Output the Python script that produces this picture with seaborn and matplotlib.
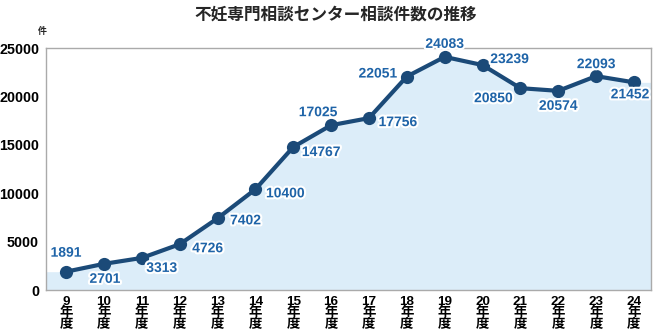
import matplotlib
matplotlib.use("Agg")
import matplotlib.pyplot as plt
import matplotlib.patheffects as pe
import seaborn as sns
import pandas as pd
import numpy as np

years = ["9", "10", "11", "12", "13", "14", "15", "16", "17", "18", "19", "20", "21", "22", "23", "24"]
counts = [1891, 2701, 3313, 4726, 7402, 10400, 14767, 17025, 17756, 22051, 24083, 23239, 20850, 20574, 22093, 21452]
yticks = [0, 5000, 10000, 15000, 20000, 25000]
title = "不妊専門相談センター相談件数の推移"
unit = "件"

sns.set_theme(style="white")
plt.rcParams['font.family'] = ['Liberation Sans', 'Noto Sans CJK JP', 'DejaVu Sans']

df = pd.DataFrame({"x": np.arange(len(years)), "count": counts})

fig = plt.figure(figsize=(6.72, 3.36), dpi=100)
ax = fig.add_axes([46/672, 1 - 290/336, (651-46)/672, (290-48)/336])

line_col = "#1b4a78"
lab_col = "#1f64a8"
fill_col = "#dcedf9"

xl = (-0.53, 15.45)
xf = np.concatenate([[xl[0]], df["x"].values, [xl[1]]])
yf = np.concatenate([[counts[0]], counts, [counts[-1]]])
ax.fill_between(xf, 0, yf, color=fill_col, lw=0, zorder=1)

sns.lineplot(data=df, x="x", y="count", ax=ax, color=line_col, lw=3,
             marker="o", markersize=9.5, markeredgewidth=0, zorder=3)

offsets = [(0, 19), (1, -15), (20, -10), (28, -4), (28, -2), (30, -4), (28, -5), (-13, 13),
           (29, -4), (-29, 3), (0, 13), (27, 6), (-27, -10), (0, -15), (0, 12), (-4, -12)]
for xi, v, (dx, dy) in zip(df["x"], counts, offsets):
    ax.annotate(str(v), (xi, v), xytext=(dx, dy), textcoords="offset pixels",
                ha="center", va="center", fontsize=10, fontweight="bold", color=lab_col,
                zorder=5,
                path_effects=[pe.withStroke(linewidth=3, foreground="white")])

ax.set_xlim(*xl)
ax.set_ylim(0, 25000)
ax.set_yticks(yticks)
ax.set_yticklabels([str(t) for t in yticks], fontsize=10.3, fontweight="bold", color="black")
ax.set_xticks(df["x"])
ax.set_xticklabels([f"{y}\n年\n度" for y in years], fontsize=9.7, fontweight="bold",
                   color="black", linespacing=0.9)
ax.tick_params(axis="both", length=0, pad=4)
ax.tick_params(axis="y", pad=5)
ax.set_xlabel("")
ax.set_ylabel("")
for s in ax.spines.values():
    s.set_color("#aaaaaa")
    s.set_linewidth(1)
ax.grid(False)

fig.text(336/672, 1 - 15/336, title, ha="center", va="center", fontsize=12, fontweight="bold")
fig.text(42/672, 1 - 31/336, unit, ha="center", va="center", fontsize=6.5, fontweight="bold")

fig.savefig("out.png", dpi=100)
